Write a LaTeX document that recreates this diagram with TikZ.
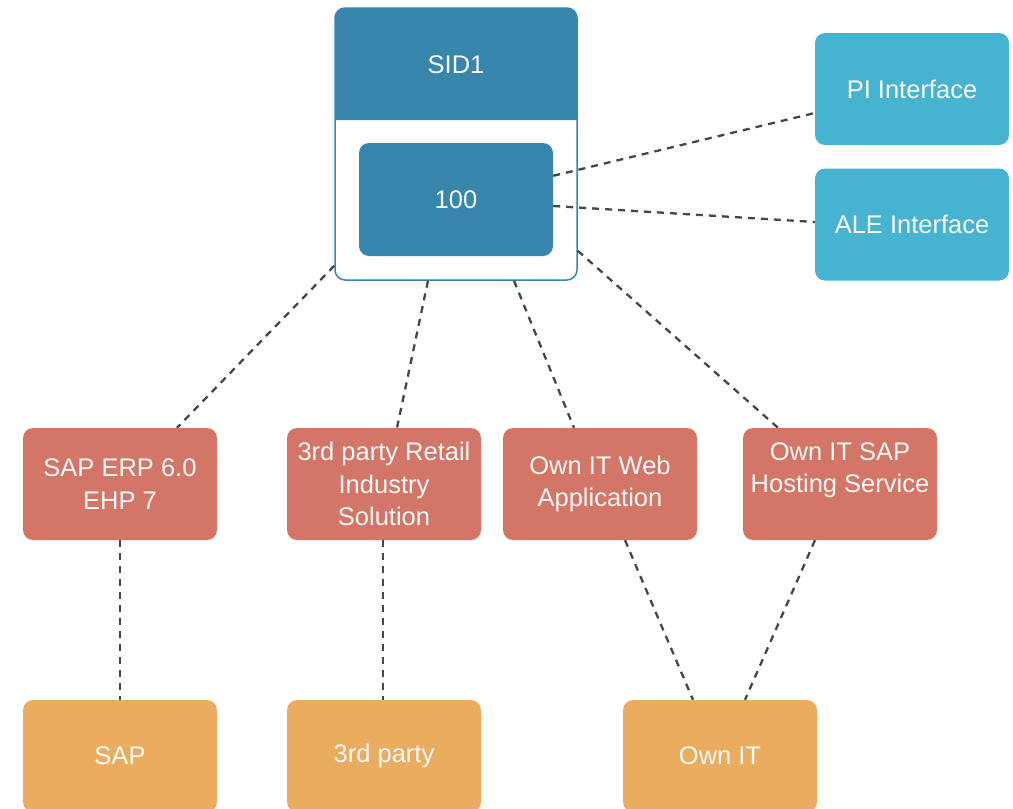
\documentclass[tikz,border=0pt]{standalone}
\usepackage{fontspec}
\setmainfont{Liberation Sans}
\usetikzlibrary{calc}
\definecolor{hdr}{RGB}{56,134,171}
\definecolor{iface}{RGB}{70,180,208}
\definecolor{appred}{RGB}{211,118,104}
\definecolor{orgorange}{RGB}{234,173,96}
\definecolor{lnk}{RGB}{70,70,70}
\definecolor{txt}{RGB}{248,248,248}
\begin{document}
\begin{tikzpicture}[x=1pt,y=-1pt,
  box/.style={rounded corners=10pt, minimum width=194pt, minimum height=112pt, text=txt,
    font=\fontsize{25.5}{32.5}\selectfont, align=center, inner sep=0pt},
  appbox/.style={box, fill=appred},
  orgbox/.style={box, fill=orgorange},
  ifbox/.style={box, fill=iface},
  conn/.style={draw=lnk, line width=2.3pt, dash pattern=on 7pt off 6pt}]
\useasboundingbox (0,0) rectangle (1013,809);
% SID1 container
\node[draw=hdr, line width=1.5pt, fill=white, rounded corners=10pt, minimum width=242pt, minimum height=272pt, inner sep=0pt] (sid) at (456,144) {};
\fill[hdr] (335,120) [rounded corners=10pt] -- (335,8) -- (577,8) [sharp corners] -- (577,120) -- cycle;
\node[text=txt, font=\fontsize{25.5}{32.5}\selectfont] (sidlabel) at (456,65) {SID1};
\node[box, fill=hdr, minimum height=113pt] (n100) at (456,199.5) {100};
% interfaces
\node[ifbox] (pi) at (912,89) {PI Interface};
\node[ifbox] (ale) at (912,224.5) {ALE Interface};
% applications
\node[appbox] (erp) at (120,484) {SAP ERP 6.0\\EHP 7};
\node[appbox] (retail) at (384,484) {3rd party Retail\\Industry\\Solution};
\node[appbox] (web) at (600,484) {Own IT Web\\Application};
\node[appbox] (host) at (840,484) {Own IT SAP\\Hosting Service\\\mbox{}};
% organisations
\node[orgbox] (sap) at (120,756) {SAP};
\node[orgbox] (third) at (384,756) {3rd party};
\node[orgbox] (ownit) at (720,756) {Own IT};
% connectors
\draw[conn] ($(n100.north east)+(0,33)$) -- ($(pi.west)+(0,24)$);
\draw[conn] ($(n100.east)+(0,6.5)$) -- ($(ale.west)+(0,-2.5)$);
\draw[conn] ($(sid.south west)+(0,-15)$) -- ($(erp.north)+(57,0)$);
\draw[conn] ($(sid.south)+(-28,0)$) -- ($(retail.north)+(13,0)$);
\draw[conn] ($(sid.south)+(58,0)$) -- ($(web.north)+(-26,0)$);
\draw[conn] ($(sid.south east)+(0,-30)$) -- ($(host.north)+(-62,0)$);
\draw[conn] (erp.south) -- (sap.north);
\draw[conn] ($(retail.south)+(-1,0)$) -- ($(third.north)+(-1,0)$);
\draw[conn] ($(web.south)+(25,0)$) -- ($(ownit.north)+(-27,0)$);
\draw[conn] ($(host.south)+(-25,0)$) -- ($(ownit.north)+(25,0)$);
\end{tikzpicture}
\end{document}
